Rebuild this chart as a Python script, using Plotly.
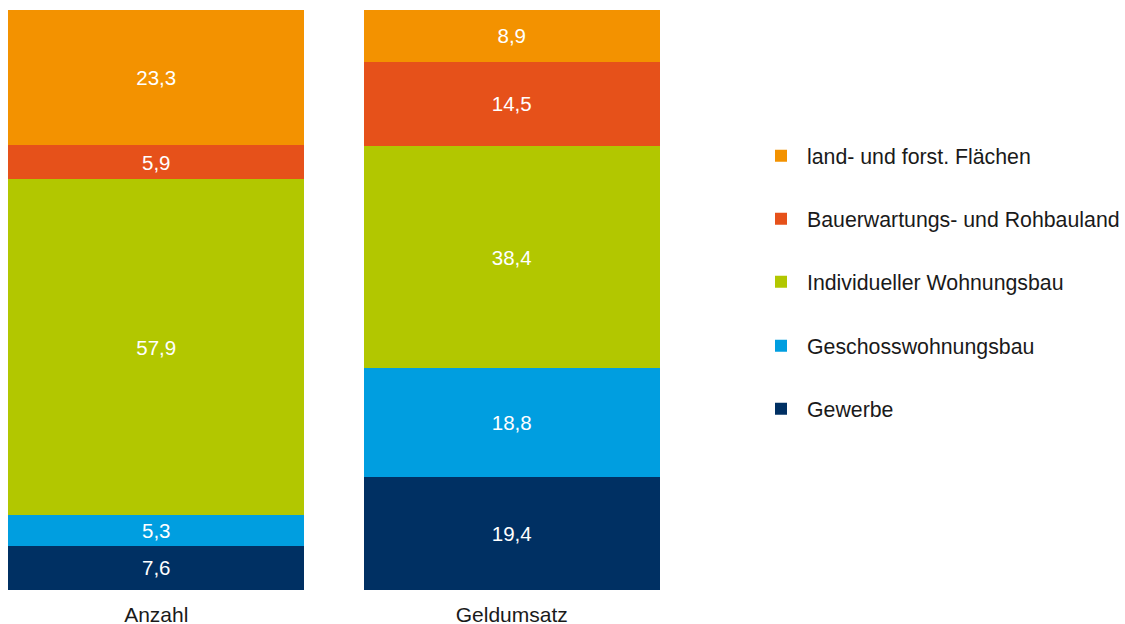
import plotly.graph_objects as go

categories = ["Anzahl", "Geldumsatz"]
series_names = [
    "Gewerbe",
    "Geschosswohnungsbau",
    "Individueller Wohnungsbau",
    "Bauerwartungs- und Rohbauland",
    "land- und forst. Flächen",
]
gewerbe = [7.6, 19.4]
geschoss = [5.3, 18.8]
individuell = [57.9, 38.4]
bauerwartung = [5.9, 14.5]
landforst = [23.3, 8.9]
colors = ["#003063", "#009EE0", "#B2C700", "#E6511A", "#F39200"]

values = [gewerbe, geschoss, individuell, bauerwartung, landforst]
FONT = "Arial, Liberation Sans, sans-serif"

W, H = 1125, 624
top, bottom = 10, 590
legend_y_px = {"land- und forst. Flächen": 156, "Bauerwartungs- und Rohbauland": 219,
               "Individueller Wohnungsbau": 282, "Geschosswohnungsbau": 346, "Gewerbe": 409}

fig = go.Figure()
legend_ids = {}
for i, name in enumerate(["land- und forst. Flächen", "Bauerwartungs- und Rohbauland",
                          "Individueller Wohnungsbau", "Geschosswohnungsbau", "Gewerbe"]):
    legend_ids[name] = "legend" if i == 0 else f"legend{i+1}"

for name, vals, col in zip(series_names, values, colors):
    fig.add_trace(go.Bar(
        x=categories, y=vals, name=name,
        marker=dict(color=col, line=dict(width=0)),
        width=0.834,
        texttemplate="%{y:.1f}",
        textposition="inside",
        insidetextanchor="middle",
        textangle=0,
        textfont=dict(color="white", size=20.5, family=FONT),
        legend=legend_ids[name],
        hoverinfo="skip",
    ))

plot_w = 700
ppu = 355.5
x0 = -0.417 - 8 / ppu
x1 = x0 + plot_w / ppu

layout_legends = {}
for name, lid in legend_ids.items():
    yc = legend_y_px[name]
    layout_legends[lid] = dict(
        x=755 / W, xanchor="left",
        y=(bottom - yc) / (bottom - top), yanchor="middle",
        font=dict(size=21.3, family=FONT, color="#1a1a1a"),
        bgcolor="rgba(0,0,0,0)", borderwidth=0,
        itemwidth=42,
    )

fig.update_layout(
    width=W, height=H,
    barmode="stack",
    separators=",.",
    plot_bgcolor="white", paper_bgcolor="white",
    margin=dict(l=0, r=0, t=top, b=H - bottom, pad=0, autoexpand=False),
    showlegend=True,
    xaxis=dict(domain=[0, plot_w / W], range=[x0, x1], showgrid=False, zeroline=False,
               showline=False, ticks="", ticklabelstandoff=10, automargin=False,
               tickfont=dict(size=21, family=FONT, color="#1a1a1a")),
    yaxis=dict(range=[0, 100], visible=False, automargin=False),
    **layout_legends,
)

fig.write_html("out.html")
